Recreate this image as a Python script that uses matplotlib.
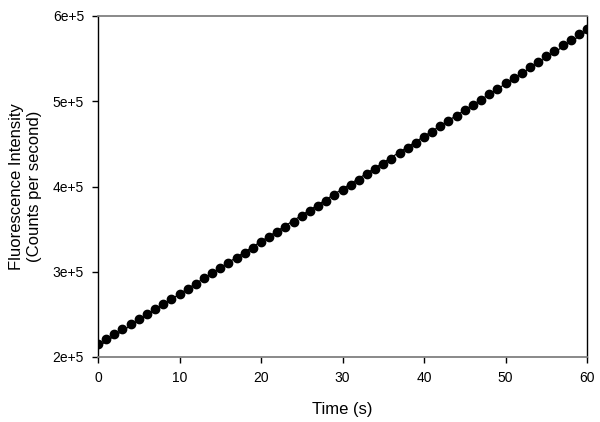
import matplotlib
matplotlib.use("Agg")
import matplotlib.pyplot as plt
import numpy as np

time_s = list(range(0, 61))
intensity = [
    215.0, 220.9, 226.8, 232.7, 238.6, 244.5, 250.4, 256.4, 262.3, 268.3,
    274.3, 280.3, 286.2, 292.2, 298.2, 304.3, 310.3, 316.3, 322.4, 328.4,
    334.5, 340.6, 346.7, 352.8, 358.9, 365.0, 371.1, 377.2, 383.4, 389.5,
    395.7, 401.9, 408.0, 414.2, 420.4, 426.6, 432.8, 439.1, 445.3, 451.6,
    457.8, 464.1, 470.4, 476.6, 482.9, 489.2, 495.6, 501.9, 508.2, 514.6,
    520.9, 527.3, 533.6, 540.0, 546.4, 552.8, 559.2, 565.6, 572.1, 578.5,
    584.9,
]
intensity = [v * 1000 for v in intensity]
x_ticks = [0, 10, 20, 30, 40, 50, 60]
y_ticks = [200000, 300000, 400000, 500000, 600000]
y_tick_labels = ["2e+5", "3e+5", "4e+5", "5e+5", "6e+5"]

plt.rcParams['font.family'] = ['Liberation Sans', 'DejaVu Sans']

fig = plt.figure(figsize=(6.0, 4.22), dpi=100)
ax = fig.add_axes([98/600, 1-357/422, (587-98)/600, (357-16)/422])

x = np.array(time_s, dtype=float)
y = np.array(intensity)
coef = np.polyfit(x, y, 1)
ax.plot(x, np.polyval(coef, x), color='black', lw=0.9, zorder=2)
ax.plot(x, y, 'o', color='black', markersize=6, zorder=3)

ax.set_xlim(0, 60)
ax.set_ylim(200000, 600000)
ax.set_xticks(x_ticks)
ax.set_xticklabels([str(t) for t in x_ticks])
ax.set_yticks(y_ticks)
ax.set_yticklabels(y_tick_labels)
ax.tick_params(direction='out', length=4, width=1, labelsize=10, pad=6)

for s in ['top', 'bottom']:
    ax.spines[s].set_color('#808080')
    ax.spines[s].set_linewidth(1.3)
for s in ['left', 'right']:
    ax.spines[s].set_color('black')
    ax.spines[s].set_linewidth(1.0)

ax.set_xlabel("Time (s)", fontsize=12, labelpad=12)
ax.set_ylabel("Fluorescence Intensity\n(Counts per second)", fontsize=12, labelpad=8)

fig.savefig("out.png", dpi=100)
